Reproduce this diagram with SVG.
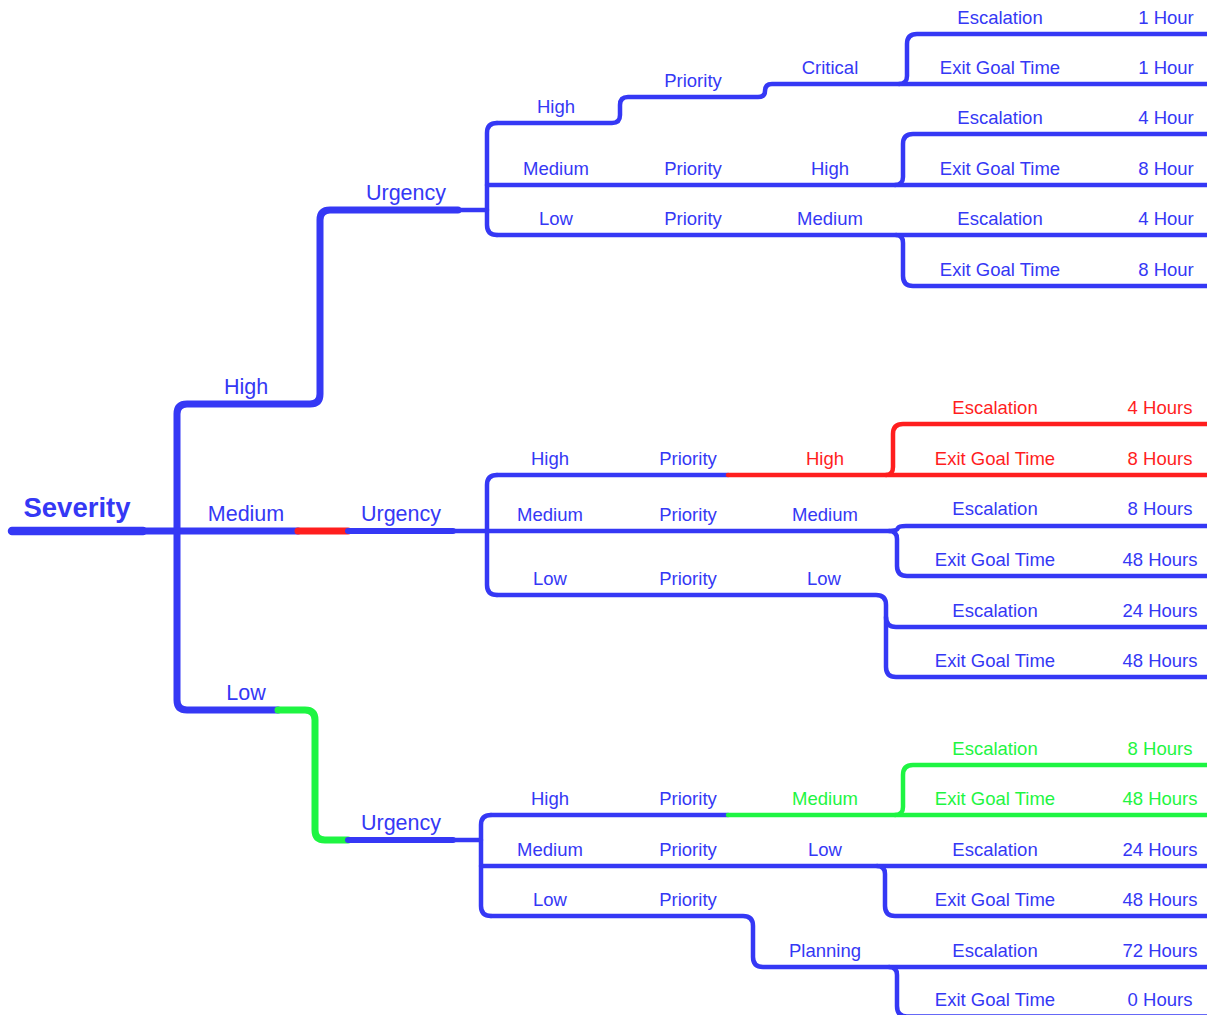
<svg xmlns="http://www.w3.org/2000/svg" width="1207" height="1015" viewBox="0 0 1207 1015">
  <style>
    .ln { fill: none; stroke-linecap: round; stroke-linejoin: round; }
    .b { stroke: #3538f5; }
    .r { stroke: #ff1e1e; }
    .g { stroke: #1ef542; }
    .w9 { stroke-width: 8.5; }
    .w7 { stroke-width: 7; }
    .w6 { stroke-width: 6; }
    .w4 { stroke-width: 4.5; }
    text { font-family: "Liberation Sans", Arial, Helvetica, sans-serif; text-anchor: middle; fill: #3538f5; }
    .t1 { font-size: 21.5px; }
    .t2 { font-size: 18.5px; }
    .root { font-size: 27.5px; font-weight: bold; }
    .tr { fill: #ff1e1e; }
    .tg { fill: #1ef542; }
  </style>
  <rect width="1207" height="1015" fill="#ffffff"/>

  <g id="connectors">
    <!-- root and first level -->
    <path class="ln b w9" d="M12,531 H143"/>
    <path class="ln b w7" d="M143,531 H298"/>
    <path class="ln r w7" d="M298,531 H348" stroke-linecap="butt"/>
    <path class="ln b w6" d="M348,531 H453"/>
    <path class="ln b w7" d="M177,531 V414 Q177,404 187,404 H310 Q320,404 320,394 V220 Q320,210 330,210 H458"/>
    <path class="ln b w7" d="M177,531 V700 Q177,710 187,710 H278"/>
    <path class="ln g w7" d="M278,710 H305 Q315,710 315,720 V830 Q315,840 325,840 H348" stroke-linecap="butt"/>
    <path class="ln b w6" d="M348,840 H453"/>

    <!-- urgency under High -->
    <path class="ln b w4" d="M458,210 H487"/>
    <path class="ln b w4" d="M497,123 Q487,123 487,133 V225 Q487,235 497,235"/>
    <path class="ln b w4" d="M497,123 H612 Q620,123 620,115 V105 Q620,97 628,97 H758 Q765,97 765,91 Q765,84 772,84 H1207"/>
    <path class="ln b w4" d="M899,84 Q907,84 907,76 V44 Q907,34 917,34 H1207"/>
    <path class="ln b w4" d="M487,185 H1207"/>
    <path class="ln b w4" d="M895,185 Q903,185 903,177 V144 Q903,134 913,134 H1207"/>
    <path class="ln b w4" d="M497,235 H1207"/>
    <path class="ln b w4" d="M896,235 Q903,235 903,243 V276 Q903,286 913,286 H1207"/>

    <!-- urgency under Medium -->
    <path class="ln b w4" d="M453,531 H487"/>
    <path class="ln b w4" d="M497,475 Q487,475 487,485 V585 Q487,595 497,595"/>
    <path class="ln b w4" d="M497,475 H728"/>
    <path class="ln r w4" d="M728,475 H1207"/>
    <path class="ln r w4" d="M886,475 Q893,475 893,467 V434 Q893,424 903,424 H1207"/>
    <path class="ln b w4" d="M487,531 H889 Q897,531 897,539 V566 Q897,576 907,576 H1207"/>
    <path class="ln b w4" d="M889,531 Q897,531 898,528 Q899,526 906,526 H1207"/>
    <path class="ln b w4" d="M497,595 H876 Q886,595 886,605 V667 Q886,677 896,677 H1207"/>
    <path class="ln b w4" d="M886,617 Q886,627 896,627 H1207"/>

    <!-- urgency under Low -->
    <path class="ln b w4" d="M453,840 H481"/>
    <path class="ln b w4" d="M491,815 Q481,815 481,825 V906 Q481,916 491,916"/>
    <path class="ln b w4" d="M491,815 H728"/>
    <path class="ln g w4" d="M728,815 H1207"/>
    <path class="ln g w4" d="M895,815 Q903,815 903,807 V775 Q903,765 913,765 H1207"/>
    <path class="ln b w4" d="M481,866 H1207"/>
    <path class="ln b w4" d="M877,866 Q885,866 885,874 V906 Q885,916 895,916 H1207"/>
    <path class="ln b w4" d="M491,916 H743 Q753,916 753,926 V957 Q753,967 763,967 H1207"/>
    <path class="ln b w4" d="M889,967 Q897,967 897,975 V1006 Q897,1016.5 907,1016.5 H1207"/>
  </g>

  <!-- root -->
  <g id="severity"><text class="root" x="77" y="517">Severity</text></g>

  <!-- first level -->
  <g id="sev-high"><text class="t1" x="246" y="394">High</text></g>
  <g id="sev-medium"><text class="t1" x="246" y="521">Medium</text></g>
  <g id="sev-low"><text class="t1" x="246" y="700">Low</text></g>
  <g id="urgency-1"><text class="t1" x="406" y="200">Urgency</text></g>
  <g id="urgency-2"><text class="t1" x="401" y="521">Urgency</text></g>
  <g id="urgency-3"><text class="t1" x="401" y="830">Urgency</text></g>

  <!-- branch under High severity -->
  <g id="u1-high" class="t2">
    <text x="556" y="113">High</text>
    <text x="693" y="87">Priority</text>
    <text x="830" y="74">Critical</text>
  </g>
  <g id="u1-critical-esc" class="t2">
    <text x="1000" y="24">Escalation</text>
    <text x="1166" y="24">1 Hour</text>
  </g>
  <g id="u1-critical-exit" class="t2">
    <text x="1000" y="74">Exit Goal Time</text>
    <text x="1166" y="74">1 Hour</text>
  </g>
  <g id="u1-medium" class="t2">
    <text x="556" y="175">Medium</text>
    <text x="693" y="175">Priority</text>
    <text x="830" y="175">High</text>
  </g>
  <g id="u1-high-esc" class="t2">
    <text x="1000" y="124">Escalation</text>
    <text x="1166" y="124">4 Hour</text>
  </g>
  <g id="u1-high-exit" class="t2">
    <text x="1000" y="175">Exit Goal Time</text>
    <text x="1166" y="175">8 Hour</text>
  </g>
  <g id="u1-low" class="t2">
    <text x="556" y="225">Low</text>
    <text x="693" y="225">Priority</text>
    <text x="830" y="225">Medium</text>
  </g>
  <g id="u1-medium-esc" class="t2">
    <text x="1000" y="225">Escalation</text>
    <text x="1166" y="225">4 Hour</text>
  </g>
  <g id="u1-medium-exit" class="t2">
    <text x="1000" y="276">Exit Goal Time</text>
    <text x="1166" y="276">8 Hour</text>
  </g>

  <!-- branch under Medium severity -->
  <g id="u2-high" class="t2">
    <text x="550" y="465">High</text>
    <text x="688" y="465">Priority</text>
    <text class="tr" x="825" y="465">High</text>
  </g>
  <g id="u2-high-esc" class="t2">
    <text class="tr" x="995" y="414">Escalation</text>
    <text class="tr" x="1160" y="414">4 Hours</text>
  </g>
  <g id="u2-high-exit" class="t2">
    <text class="tr" x="995" y="465">Exit Goal Time</text>
    <text class="tr" x="1160" y="465">8 Hours</text>
  </g>
  <g id="u2-medium" class="t2">
    <text x="550" y="521">Medium</text>
    <text x="688" y="521">Priority</text>
    <text x="825" y="521">Medium</text>
  </g>
  <g id="u2-medium-esc" class="t2">
    <text x="995" y="515">Escalation</text>
    <text x="1160" y="515">8 Hours</text>
  </g>
  <g id="u2-medium-exit" class="t2">
    <text x="995" y="566">Exit Goal Time</text>
    <text x="1160" y="566">48 Hours</text>
  </g>
  <g id="u2-low" class="t2">
    <text x="550" y="585">Low</text>
    <text x="688" y="585">Priority</text>
    <text x="824" y="585">Low</text>
  </g>
  <g id="u2-low-esc" class="t2">
    <text x="995" y="617">Escalation</text>
    <text x="1160" y="617">24 Hours</text>
  </g>
  <g id="u2-low-exit" class="t2">
    <text x="995" y="667">Exit Goal Time</text>
    <text x="1160" y="667">48 Hours</text>
  </g>

  <!-- branch under Low severity -->
  <g id="u3-high" class="t2">
    <text x="550" y="805">High</text>
    <text x="688" y="805">Priority</text>
    <text class="tg" x="825" y="805">Medium</text>
  </g>
  <g id="u3-medium-esc" class="t2">
    <text class="tg" x="995" y="755">Escalation</text>
    <text class="tg" x="1160" y="755">8 Hours</text>
  </g>
  <g id="u3-medium-exit" class="t2">
    <text class="tg" x="995" y="805">Exit Goal Time</text>
    <text class="tg" x="1160" y="805">48 Hours</text>
  </g>
  <g id="u3-medium" class="t2">
    <text x="550" y="856">Medium</text>
    <text x="688" y="856">Priority</text>
    <text x="825" y="856">Low</text>
  </g>
  <g id="u3-low-esc" class="t2">
    <text x="995" y="856">Escalation</text>
    <text x="1160" y="856">24 Hours</text>
  </g>
  <g id="u3-low-exit" class="t2">
    <text x="995" y="906">Exit Goal Time</text>
    <text x="1160" y="906">48 Hours</text>
  </g>
  <g id="u3-low" class="t2">
    <text x="550" y="906">Low</text>
    <text x="688" y="906">Priority</text>
    <text x="825" y="957">Planning</text>
  </g>
  <g id="u3-planning-esc" class="t2">
    <text x="995" y="957">Escalation</text>
    <text x="1160" y="957">72 Hours</text>
  </g>
  <g id="u3-planning-exit" class="t2">
    <text x="995" y="1006">Exit Goal Time</text>
    <text x="1160" y="1006">0 Hours</text>
  </g>
</svg>
